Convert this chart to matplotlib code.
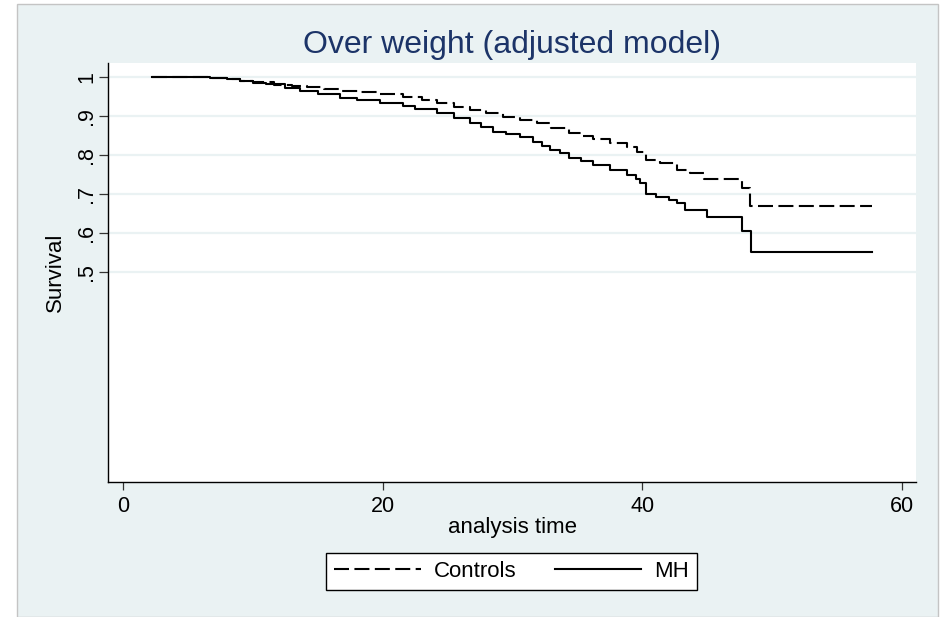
"""
Over weight survival curves (adjusted model)
Controls vs MH, step survival estimates.
"""


import matplotlib.pyplot as plt
from matplotlib.patches import Rectangle


# analysis time and survival
controls_time = [2.2, 6.7, 8.0, 9.0, 10.0, 11.6, 13.0, 14.2, 15.5, 16.7,
                 18.2, 19.8, 21.6, 23.0, 24.2, 25.5, 26.7, 28.0, 29.3, 30.6,
                 31.9, 33.0, 34.4, 35.3, 36.2, 37.5, 38.8, 39.6, 40.3, 41.4,
                 42.7, 43.7, 44.8, 47.7, 48.3, 57.7]
controls_surv = [1.0, 0.997, 0.994, 0.990, 0.986, 0.979, 0.976, 0.973, 0.969,
                 0.964, 0.960, 0.955, 0.947, 0.940, 0.932, 0.923, 0.915, 0.906,
                 0.897, 0.889, 0.880, 0.868, 0.855, 0.847, 0.839, 0.830, 0.820,
                 0.808, 0.786, 0.778, 0.761, 0.752, 0.738, 0.714, 0.668, 0.668]

mh_time = [2.2, 6.7, 8.0, 9.0, 10.0, 11.0, 12.5, 13.6, 15.0, 16.7, 18.0,
           19.8, 21.6, 22.5, 24.2, 25.5, 26.7, 27.6, 28.5, 29.5, 30.6, 31.6,
           32.3, 32.9, 33.7, 34.4, 35.3, 36.2, 37.5, 38.8, 39.5, 39.8, 40.3,
           41.1, 42.1, 42.7, 43.3, 45.0, 47.7, 48.4, 57.7]
mh_surv = [1.0, 0.997, 0.993, 0.989, 0.985, 0.981, 0.972, 0.962, 0.956, 0.945,
           0.939, 0.932, 0.924, 0.918, 0.907, 0.894, 0.881, 0.870, 0.859,
           0.852, 0.846, 0.833, 0.822, 0.812, 0.804, 0.792, 0.783, 0.774,
           0.762, 0.748, 0.738, 0.727, 0.700, 0.692, 0.684, 0.676, 0.658,
           0.641, 0.605, 0.551, 0.551]

x_ticks = [0, 20, 40, 60]
y_ticks = [0.5, 0.6, 0.7, 0.8, 0.9, 1.0]
y_labels = [".5", ".6", ".7", ".8", ".9", "1"]

W, H = 940, 617
PANEL = "#EAF2F3"


def fx(px):
    """Pixel column to figure fraction."""
    return px / W


def fy(py):
    """Pixel row (from top) to figure fraction."""
    return 1 - py / H


def main():
    """Draws the survival plot."""
    plt.rcParams["font.family"] = ["Liberation Sans", "DejaVu Sans"]

    fig = plt.figure(figsize=(W / 100, H / 100), dpi=100, facecolor="white")
    fig.add_artist(Rectangle((fx(17), 0), fx(938) - fx(17), fy(4),
                             transform=fig.transFigure, facecolor=PANEL,
                             edgecolor="#C4C4C4", lw=1, zorder=-5))

    ax = fig.add_axes([fx(108), fy(482), fx(916) - fx(108), fy(63) - fy(482)])
    ax.set_facecolor("white")

    ax.plot(controls_time, controls_surv, drawstyle="steps-post",
            color="black", lw=1.5, linestyle=(0, (7.2, 2.6)),
            label="Controls")
    ax.plot(mh_time, mh_surv, drawstyle="steps-post", color="black",
            lw=1.5, label="MH")

    ax.set_xlim(-1.16, 61.1)
    ax.set_ylim(-0.039, 1.035)
    ax.set_xticks(x_ticks)
    ax.set_yticks(y_ticks)
    ax.set_yticklabels(y_labels, rotation=90, va="center")
    ax.tick_params(axis="x", length=6, width=0.9, pad=4, labelsize=15.5,
                   color="#333333")
    ax.tick_params(axis="y", length=6.5, width=0.9, pad=1.5, labelsize=15.5,
                   color="#333333")

    ax.grid(axis="y", color=PANEL, lw=1.6)
    ax.set_axisbelow(True)
    for side in ("top", "right"):
        ax.spines[side].set_visible(False)
    for side in ("left", "bottom"):
        ax.spines[side].set_color("black")
        ax.spines[side].set_linewidth(1.0)

    fig.text(fx(512), fy(53), "Over weight (adjusted model)", ha="center",
             va="baseline", fontsize=23, color="#1C3468")
    fig.text(fx(512), fy(533), "analysis time", ha="center", va="baseline",
             fontsize=16)
    fig.text(fx(55), fy(272), "Survival", ha="center", va="center",
             rotation=90, fontsize=16)

    leg = fig.legend(loc="center", bbox_to_anchor=(fx(511.7), fy(571.5)),
                     ncol=2, fontsize=16, frameon=True, fancybox=False,
                     handlelength=3.9, handletextpad=0.6, columnspacing=1.7,
                     borderpad=0.35, borderaxespad=0)
    leg.get_frame().set_edgecolor("black")
    leg.get_frame().set_linewidth(1.0)
    leg.get_frame().set_alpha(1)

    fig.savefig("out.png", dpi=100, facecolor=fig.get_facecolor())


if __name__ == "__main__":
    main()
